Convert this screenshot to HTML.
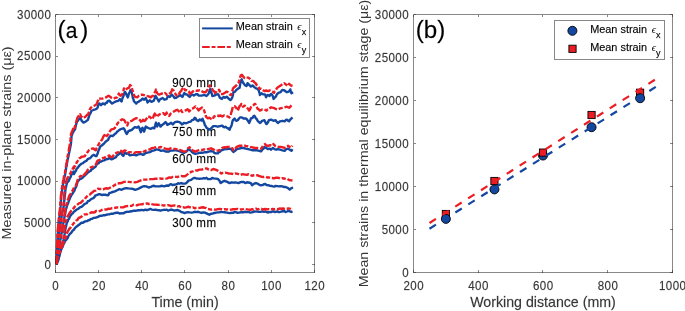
<!DOCTYPE html><html><head><meta charset="utf-8"><style>html,body{margin:0;padding:0;background:#fff;}svg{display:block;will-change:transform;}</style></head><body>
<svg width="685" height="311" viewBox="0 0 685 311" font-family="&quot;Liberation Sans&quot;, sans-serif">
<rect x="0" y="0" width="685" height="311" fill="#fff"/>
<g id="axA">
<text transform="translate(172.20,87.40) scale(0.94,1)" font-size="12.3" fill="#000" text-anchor="start" stroke="#000" stroke-width="0.28" stroke-opacity="0.55" letter-spacing="0.45">900 mm</text>
<text transform="translate(172.20,136.00) scale(0.94,1)" font-size="12.3" fill="#000" text-anchor="start" stroke="#000" stroke-width="0.28" stroke-opacity="0.55" letter-spacing="0.45">750 mm</text>
<text transform="translate(172.20,162.80) scale(0.94,1)" font-size="12.3" fill="#000" text-anchor="start" stroke="#000" stroke-width="0.28" stroke-opacity="0.55" letter-spacing="0.45">600 mm</text>
<text transform="translate(172.20,194.80) scale(0.94,1)" font-size="12.3" fill="#000" text-anchor="start" stroke="#000" stroke-width="0.28" stroke-opacity="0.55" letter-spacing="0.45">450 mm</text>
<text transform="translate(172.20,226.60) scale(0.94,1)" font-size="12.3" fill="#000" text-anchor="start" stroke="#000" stroke-width="0.28" stroke-opacity="0.55" letter-spacing="0.45">300 mm</text>
<g fill="none" stroke-width="2.4" stroke-linejoin="round">
<path d="M56.70,264.20 L57.50,262.00 L58.40,260.00 L58.75,258.78 L59.10,256.72 L59.45,256.32 L59.80,254.40 L60.27,252.40 L60.73,250.94 L61.20,249.60 L61.87,247.85 L62.53,247.05 L63.20,244.80 L63.83,243.70 L64.47,242.64 L65.10,240.90 L66.35,239.67 L67.60,238.00 L68.33,236.27 L69.07,234.98 L69.80,234.00 L70.77,233.36 L71.73,232.06 L72.70,230.50 L73.80,229.90 L74.90,228.06 L76.00,227.00 L77.33,226.05 L78.67,225.00 L80.00,224.00 L81.47,222.71 L82.93,222.81 L84.40,221.70 L85.70,221.27 L87.00,221.17 L88.30,220.20 L89.60,219.98 L90.90,218.87 L92.20,218.90 L93.47,217.87 L94.73,217.76 L96.00,217.60 L98.00,216.90 L99.70,215.90 L101.40,215.80 L103.10,215.28 L104.80,215.30 L106.45,214.73 L108.10,214.40 L109.80,214.19 L111.50,213.60 L113.20,213.68 L114.90,213.00 L116.60,212.74 L118.30,212.80 L119.95,213.61 L121.60,213.20 L123.30,213.40 L125.00,212.40 L126.70,211.80 L128.40,211.90 L130.10,211.47 L131.80,211.30 L133.45,210.72 L135.10,210.80 L136.80,210.53 L138.50,210.20 L140.20,210.28 L141.90,209.90 L143.60,210.33 L145.30,209.60 L146.95,210.20 L148.60,209.60 L150.30,208.98 L152.00,209.60 L153.70,209.92 L155.40,209.60 L157.10,210.00 L158.80,210.20 L160.45,210.69 L162.10,210.20 L163.80,209.81 L165.50,209.90 L166.80,209.67 L168.10,210.61 L169.40,210.20 L171.10,209.54 L172.80,210.00 L174.45,210.63 L176.10,210.20 L177.80,210.00 L179.50,210.80 L181.20,212.00 L182.90,212.40 L184.60,213.05 L186.30,212.40 L187.95,212.18 L189.60,212.40 L191.30,212.58 L193.00,212.40 L194.70,211.79 L196.40,212.10 L198.10,211.76 L199.80,212.40 L201.45,212.94 L203.10,212.40 L205.40,212.80 L207.10,213.60 L209.30,214.70 L211.60,213.60 L213.00,213.48 L214.40,213.00 L216.10,212.58 L217.80,212.40 L219.45,212.42 L221.10,211.90 L222.80,212.12 L224.50,212.20 L227.00,212.60 L229.50,213.10 L232.00,212.70 L233.43,212.83 L234.87,211.79 L236.30,212.30 L237.73,212.80 L239.15,212.62 L240.57,212.31 L242.00,212.10 L243.38,212.42 L244.75,211.75 L246.12,211.95 L247.50,211.90 L248.88,212.00 L250.25,212.60 L251.62,212.32 L253.00,212.00 L254.45,211.49 L255.90,211.64 L257.35,211.45 L258.80,211.90 L260.53,211.86 L262.27,211.39 L264.00,211.90 L265.50,211.47 L267.00,212.23 L268.50,212.46 L270.00,211.90 L271.50,211.97 L273.00,211.22 L274.50,212.08 L276.00,211.80 L277.32,211.39 L278.65,212.16 L279.98,211.95 L281.30,211.60 L282.73,211.23 L284.15,210.95 L285.57,212.04 L287.00,211.50 L288.38,210.92 L289.75,211.39 L291.12,211.93 L292.50,211.40" stroke="#1448a0"/>
<path d="M56.70,264.20 L56.85,263.11 L57.00,261.28 L57.15,260.19 L57.30,259.00 L57.70,258.16 L58.10,256.30 L58.50,255.00 L59.07,254.02 L59.63,251.80 L60.20,251.00 L60.65,249.65 L61.10,248.54 L61.55,247.07 L62.00,246.00 L62.38,244.39 L62.75,243.49 L63.12,241.38 L63.50,240.00 L63.73,238.55 L63.97,236.90 L64.20,235.50 L64.47,234.60 L64.75,233.23 L65.03,230.82 L65.30,229.80 L65.60,228.34 L65.90,226.43 L66.20,225.75 L66.50,224.20 L67.07,222.25 L67.63,221.69 L68.20,219.70 L68.90,218.99 L69.60,217.39 L70.30,215.82 L71.00,215.20 L71.97,213.74 L72.95,213.16 L73.93,211.56 L74.90,211.20 L76.45,209.68 L78.00,209.00 L79.30,207.79 L80.60,207.09 L81.90,206.70 L83.17,205.48 L84.43,204.13 L85.70,203.50 L86.77,203.08 L87.83,201.23 L88.90,200.90 L90.20,199.97 L91.50,198.79 L92.80,198.40 L94.10,197.48 L95.40,195.50 L96.70,195.15 L98.00,194.50 L99.40,194.16 L100.80,194.50 L102.20,195.02 L103.60,194.70 L105.90,194.80 L107.60,195.40 L108.45,194.87 L109.30,193.10 L110.90,192.60 L112.60,192.00 L114.90,191.40 L117.10,190.30 L119.40,189.20 L121.60,189.80 L123.90,188.60 L126.10,188.10 L128.40,188.40 L130.60,188.60 L132.90,188.90 L135.10,189.80 L137.40,189.20 L139.60,188.10 L141.90,186.90 L144.10,186.20 L146.40,186.40 L148.60,187.50 L150.90,186.90 L153.10,185.80 L155.40,186.20 L157.60,186.40 L159.90,186.20 L162.10,185.80 L164.40,186.40 L165.80,185.71 L167.20,185.50 L168.30,185.90 L169.70,184.72 L171.10,184.20 L172.50,185.09 L173.90,184.80 L175.30,184.59 L176.70,184.20 L178.10,183.26 L179.50,183.60 L181.20,183.03 L182.90,183.60 L185.10,183.60 L186.25,183.11 L187.40,181.90 L188.50,180.63 L189.60,180.30 L191.00,179.95 L192.40,178.90 L193.85,177.85 L195.30,178.00 L196.70,178.52 L198.10,178.60 L199.50,178.80 L200.90,178.60 L202.30,178.64 L203.70,178.20 L205.10,178.52 L206.50,177.80 L207.90,178.98 L209.30,179.10 L210.70,179.13 L212.10,178.00 L213.80,178.42 L215.50,178.60 L217.80,178.90 L219.50,180.80 L220.60,183.10 L222.30,181.90 L224.50,180.80 L225.90,181.32 L227.30,181.90 L229.50,183.10 L231.80,182.30 L233.45,182.65 L235.10,182.50 L236.80,182.60 L238.50,183.10 L240.20,182.28 L241.90,181.90 L243.60,181.93 L245.30,183.10 L246.95,182.28 L248.60,182.50 L250.90,183.10 L252.00,185.30 L253.15,184.40 L254.30,183.60 L255.95,183.03 L257.60,183.60 L259.30,184.84 L261.00,185.30 L262.40,185.17 L263.80,184.20 L265.20,183.95 L266.60,185.00 L268.30,185.20 L270.00,185.90 L271.40,185.95 L272.80,186.40 L274.20,186.59 L275.60,185.90 L277.30,186.07 L279.00,186.40 L280.70,186.15 L282.40,186.40 L284.10,187.04 L285.80,187.00 L288.00,188.10 L289.70,189.50 L291.40,188.10 L293.10,187.60" stroke="#1448a0"/>
<path d="M56.70,264.20 L56.82,263.18 L56.93,261.85 L57.05,259.63 L57.17,259.24 L57.28,257.80 L57.40,256.00 L57.64,255.03 L57.88,253.47 L58.12,252.41 L58.36,250.81 L58.60,249.00 L58.84,248.24 L59.09,246.32 L59.33,244.59 L59.57,244.50 L59.81,242.89 L60.06,241.90 L60.30,240.00 L60.57,238.99 L60.84,237.77 L61.11,236.02 L61.39,233.74 L61.66,233.17 L61.93,231.33 L62.20,230.00 L62.46,229.00 L62.71,226.60 L62.97,225.81 L63.23,223.94 L63.49,222.31 L63.74,221.59 L64.00,220.00 L64.23,219.21 L64.46,216.93 L64.69,216.08 L64.91,214.91 L65.14,213.72 L65.37,212.85 L65.60,211.00 L66.02,208.98 L66.45,207.96 L66.88,206.01 L67.30,205.00 L67.87,203.78 L68.43,202.18 L69.00,200.30 L69.62,199.17 L70.25,197.22 L70.88,196.27 L71.50,195.00 L72.37,193.85 L73.23,192.31 L74.10,191.30 L74.70,189.81 L75.30,188.08 L75.90,187.28 L76.50,185.70 L77.00,183.90 L77.50,182.00 L78.50,180.60 L79.80,179.20 L81.40,178.67 L83.00,177.30 L84.07,176.16 L85.13,175.37 L86.20,174.10 L87.27,173.04 L88.33,172.11 L89.40,171.50 L90.47,171.02 L91.53,169.46 L92.60,168.90 L93.90,167.80 L95.20,167.00 L96.15,165.55 L97.10,163.80 L98.40,163.37 L99.70,161.90 L101.30,161.58 L102.90,160.60 L104.50,160.34 L106.10,159.30 L107.70,159.17 L109.30,158.00 L110.40,158.63 L111.50,159.40 L113.80,158.30 L116.00,157.10 L116.85,155.63 L117.70,154.90 L119.40,153.80 L120.50,152.10 L121.35,153.47 L122.20,154.90 L123.30,156.00 L124.15,154.32 L125.00,152.60 L126.70,153.80 L128.40,153.20 L129.25,154.89 L130.10,155.40 L131.80,154.90 L134.00,154.90 L136.30,155.40 L138.50,154.30 L140.80,153.80 L143.00,154.90 L144.15,154.44 L145.30,153.20 L147.50,152.60 L149.80,152.10 L152.00,150.90 L154.30,150.40 L156.50,149.30 L158.80,149.80 L161.00,150.90 L163.30,150.40 L165.50,151.50 L166.90,151.56 L168.30,151.70 L170.50,150.60 L172.80,150.60 L175.00,150.00 L177.30,150.60 L179.50,151.10 L181.80,152.30 L184.00,152.80 L186.30,151.70 L187.40,150.57 L188.50,148.90 L189.65,149.98 L190.80,150.60 L191.90,151.94 L193.00,152.80 L195.30,153.90 L197.50,153.40 L199.80,152.80 L202.00,152.80 L204.30,152.30 L206.50,152.30 L208.80,151.70 L211.00,151.10 L213.30,151.70 L214.40,152.87 L215.50,153.40 L217.80,153.40 L218.90,152.10 L220.00,151.70 L221.15,150.23 L222.30,150.00 L224.50,149.20 L225.90,149.04 L227.30,149.10 L229.50,148.60 L231.80,149.70 L232.60,151.10 L233.40,151.90 L235.10,150.80 L236.80,149.10 L239.10,148.60 L241.30,148.00 L243.60,148.00 L245.80,148.60 L248.10,149.10 L250.30,149.70 L252.60,150.30 L254.80,150.30 L257.10,150.30 L259.30,150.80 L261.00,151.40 L261.85,150.28 L262.70,149.10 L263.55,148.60 L264.40,146.90 L266.10,148.00 L267.80,149.10 L269.50,148.60 L271.10,149.70 L272.80,148.00 L274.50,149.10 L276.20,149.70 L277.90,149.10 L280.10,149.70 L282.40,150.30 L284.60,150.80 L286.30,149.10 L288.00,148.60 L289.70,149.70 L291.40,150.80 L292.50,149.10" stroke="#1448a0"/>
<path d="M56.70,264.20 L56.74,263.44 L56.79,262.07 L56.83,259.56 L56.88,258.24 L56.92,257.86 L56.97,256.37 L57.01,254.93 L57.06,253.11 L57.10,252.00 L57.21,250.71 L57.33,249.28 L57.44,247.82 L57.56,245.84 L57.67,244.77 L57.79,243.29 L57.90,242.00 L58.10,240.86 L58.30,239.79 L58.50,238.30 L58.70,236.34 L58.90,234.79 L59.10,233.13 L59.30,232.00 L59.51,229.97 L59.73,228.53 L59.94,227.67 L60.16,226.05 L60.37,224.70 L60.59,223.94 L60.80,222.00 L61.00,220.75 L61.20,219.51 L61.40,217.80 L61.60,216.24 L61.80,215.34 L62.00,213.81 L62.20,213.00 L62.55,211.51 L62.90,210.65 L63.25,208.73 L63.60,207.00 L63.74,205.19 L63.88,204.71 L64.02,203.19 L64.16,201.70 L64.30,200.00 L64.44,199.23 L64.59,197.74 L64.73,196.48 L64.88,194.61 L65.02,194.13 L65.17,192.80 L65.31,190.46 L65.46,189.93 L65.60,188.30 L65.92,187.30 L66.25,185.70 L66.58,184.51 L66.90,183.20 L67.73,181.89 L68.57,181.15 L69.40,179.30 L69.97,178.03 L70.53,177.20 L71.10,175.50 L71.90,173.98 L72.70,173.33 L73.50,171.50 L73.75,173.32 L74.00,174.10 L74.65,172.75 L75.30,171.59 L75.95,170.75 L76.60,168.90 L77.67,167.92 L78.73,166.35 L79.80,165.10 L81.40,163.74 L83.00,163.10 L84.30,161.92 L85.60,161.20 L86.67,160.59 L87.73,159.03 L88.80,158.60 L90.10,158.18 L91.40,156.70 L92.65,155.45 L93.90,154.80 L95.20,155.98 L96.50,156.10 L96.97,154.55 L97.45,154.09 L97.93,152.47 L98.40,150.90 L99.03,149.41 L99.67,147.92 L100.30,146.40 L101.60,145.65 L102.90,144.50 L104.20,143.31 L105.50,141.90 L106.80,140.71 L108.10,140.00 L108.70,138.40 L109.80,136.62 L110.90,135.60 L112.60,136.10 L113.75,135.02 L114.90,133.90 L116.00,133.31 L117.10,131.60 L118.25,130.91 L119.40,129.90 L121.60,128.80 L123.30,128.30 L124.15,128.85 L125.00,130.50 L125.85,132.62 L126.70,133.90 L127.55,132.79 L128.40,131.10 L130.10,130.50 L131.80,129.90 L133.40,128.30 L135.10,127.10 L136.80,127.70 L138.50,126.60 L139.60,128.30 L140.00,130.13 L140.40,130.50 L140.80,132.20 L141.37,131.02 L141.93,128.63 L142.50,127.70 L143.03,129.20 L143.57,130.01 L144.10,131.60 L144.53,129.99 L144.95,129.59 L145.38,127.34 L145.80,126.60 L147.50,127.70 L149.20,128.30 L150.90,128.80 L152.60,127.70 L154.30,128.30 L154.73,126.90 L155.15,125.91 L155.57,123.69 L156.00,122.60 L156.37,123.56 L156.73,125.76 L157.10,126.60 L157.95,124.80 L158.80,123.20 L159.65,125.18 L160.50,126.60 L162.10,124.90 L163.80,123.80 L165.50,122.10 L166.35,122.89 L167.20,124.90 L169.40,123.90 L171.10,122.80 L172.80,124.40 L173.90,123.12 L175.00,122.20 L177.30,121.60 L179.50,122.20 L180.65,122.87 L181.80,124.40 L182.90,123.82 L184.00,122.80 L186.30,123.30 L188.50,122.20 L190.80,121.60 L191.90,120.21 L193.00,119.90 L193.85,119.39 L194.70,117.70 L195.55,118.18 L196.40,119.90 L198.10,121.10 L199.80,119.40 L201.40,120.50 L202.60,118.80 L203.15,120.50 L203.70,121.60 L204.25,122.68 L204.80,125.00 L205.65,126.08 L206.50,127.80 L208.20,128.90 L209.90,129.50 L211.60,127.80 L213.30,126.10 L215.50,126.10 L217.80,126.70 L220.00,126.10 L222.30,125.60 L223.40,126.86 L224.50,127.30 L225.50,126.80 L227.30,128.10 L228.40,128.50 L229.50,129.80 L230.35,127.69 L231.20,126.40 L231.62,125.10 L232.05,123.15 L232.47,121.16 L232.90,120.20 L234.60,118.50 L235.45,120.29 L236.30,120.80 L237.90,120.20 L239.05,118.35 L240.20,117.40 L241.90,117.40 L243.60,118.50 L245.30,118.50 L246.40,118.75 L247.50,120.20 L248.35,121.40 L249.20,123.00 L249.77,121.65 L250.33,120.32 L250.90,118.50 L252.60,117.90 L253.45,116.30 L254.30,115.70 L255.10,116.89 L255.90,118.50 L256.75,119.04 L257.60,120.80 L258.75,121.83 L259.90,123.00 L261.00,122.25 L262.10,120.80 L264.40,120.20 L265.13,121.81 L265.87,123.32 L266.60,124.10 L267.37,123.13 L268.13,121.97 L268.90,120.20 L271.10,119.60 L273.40,120.80 L275.60,120.20 L276.75,121.87 L277.90,123.00 L279.00,122.11 L280.10,121.30 L282.40,120.80 L284.60,121.30 L285.75,120.09 L286.90,119.60 L288.00,120.66 L289.10,121.30 L289.95,119.96 L290.80,119.10 L292.50,117.40" stroke="#1448a0"/>
<path d="M56.70,264.20 L56.72,262.41 L56.74,261.90 L56.77,260.53 L56.79,258.19 L56.81,257.15 L56.83,256.29 L56.86,255.20 L56.88,253.36 L56.90,252.00 L56.96,250.94 L57.01,249.96 L57.07,247.95 L57.12,246.43 L57.18,245.33 L57.23,243.79 L57.29,242.98 L57.34,241.09 L57.40,240.00 L57.49,238.88 L57.58,237.73 L57.67,236.06 L57.76,234.84 L57.84,233.31 L57.93,232.13 L58.02,230.23 L58.11,229.10 L58.20,228.00 L58.34,226.55 L58.48,224.71 L58.61,224.47 L58.75,221.99 L58.89,220.72 L59.02,219.90 L59.16,218.63 L59.30,217.00 L59.47,216.19 L59.64,214.52 L59.81,212.66 L59.99,211.56 L60.16,209.47 L60.33,207.86 L60.50,207.00 L60.60,206.16 L60.70,204.00 L60.80,202.57 L60.90,202.10 L61.00,199.90 L61.10,199.14 L61.20,197.21 L61.30,196.00 L61.50,194.16 L61.70,193.07 L61.90,192.33 L62.10,189.90 L62.30,188.80 L62.50,188.39 L62.70,185.90 L62.90,185.00 L63.20,183.10 L63.50,182.41 L63.80,181.21 L64.10,179.75 L64.40,177.45 L64.70,176.43 L65.00,175.00 L65.22,173.56 L65.44,172.71 L65.67,170.68 L65.89,169.78 L66.11,167.82 L66.33,166.59 L66.56,166.18 L66.78,164.77 L67.00,163.00 L67.26,161.74 L67.51,160.40 L67.77,159.03 L68.03,158.39 L68.29,156.86 L68.54,155.89 L68.80,154.00 L69.09,152.90 L69.37,151.76 L69.66,150.42 L69.94,148.88 L70.23,147.41 L70.51,145.88 L70.80,145.00 L70.91,143.52 L71.03,142.97 L71.14,140.97 L71.26,140.08 L71.37,138.82 L71.49,136.56 L71.60,135.90 L72.22,134.27 L72.85,132.45 L73.47,131.69 L74.10,130.10 L75.10,129.40 L75.44,127.41 L75.78,126.05 L76.12,124.52 L76.46,123.28 L76.80,122.00 L77.65,121.04 L78.50,119.80 L80.10,118.10 L80.95,119.18 L81.80,120.90 L83.50,122.60 L85.80,121.50 L86.90,120.66 L88.00,119.80 L88.42,118.18 L88.85,116.78 L89.28,115.36 L89.70,114.20 L90.55,113.13 L91.40,110.80 L92.80,110.24 L94.20,109.60 L95.60,109.30 L97.00,108.50 L97.58,107.52 L98.15,105.46 L98.72,104.06 L99.30,103.40 L101.00,105.20 L102.70,103.40 L104.90,104.40 L105.83,102.94 L106.77,102.78 L107.70,101.20 L109.40,100.60 L110.40,101.90 L112.10,103.60 L113.80,102.50 L116.00,101.40 L118.30,100.80 L119.90,99.10 L120.75,100.83 L121.60,101.40 L122.02,99.79 L122.45,98.28 L122.88,97.27 L123.30,96.30 L123.87,94.68 L124.43,93.07 L125.00,91.80 L125.85,93.16 L126.70,95.20 L127.80,97.40 L128.17,96.49 L128.53,94.80 L128.90,93.50 L129.75,91.96 L130.60,90.10 L131.80,92.40 L132.08,94.24 L132.35,94.82 L132.62,96.52 L132.90,98.00 L133.45,99.18 L134.00,101.40 L135.15,102.34 L136.30,103.60 L137.40,102.15 L138.50,101.90 L139.65,100.83 L140.80,100.30 L142.50,98.60 L144.10,99.70 L145.80,98.00 L146.37,99.68 L146.93,100.42 L147.50,102.50 L148.65,101.31 L149.80,100.30 L151.50,101.90 L153.70,100.80 L154.12,99.61 L154.55,98.62 L154.97,97.16 L155.40,95.80 L156.25,96.94 L157.10,98.60 L157.95,99.73 L158.80,101.40 L159.65,99.73 L160.50,99.10 L162.70,98.00 L164.40,99.70 L166.60,99.10 L167.25,97.63 L167.90,96.00 L169.80,97.00 L170.80,95.78 L171.80,94.60 L173.20,96.00 L174.60,98.00 L175.85,97.92 L177.10,97.00 L179.00,96.00 L180.40,95.10 L181.40,96.02 L182.40,97.00 L183.03,95.83 L183.67,94.27 L184.30,93.10 L185.75,94.25 L187.20,94.60 L188.40,95.87 L189.60,97.00 L190.55,95.70 L191.50,94.60 L192.70,94.60 L193.90,95.60 L195.90,94.10 L197.35,94.25 L198.80,95.60 L200.20,95.63 L201.60,95.60 L203.60,95.10 L205.05,95.17 L206.50,96.00 L207.70,94.74 L208.90,93.10 L209.37,91.25 L209.83,90.25 L210.30,88.80 L210.70,90.61 L211.10,91.84 L211.50,93.16 L211.90,93.95 L212.30,96.00 L214.20,95.60 L216.10,94.60 L218.00,94.10 L218.67,95.21 L219.33,96.60 L220.00,98.00 L221.90,98.90 L222.85,97.50 L223.80,97.00 L225.00,97.80 L226.70,96.70 L228.40,98.40 L229.50,99.46 L230.60,100.10 L231.45,99.05 L232.30,97.30 L232.58,96.31 L232.85,95.16 L233.12,93.94 L233.40,92.20 L235.10,91.60 L236.30,89.90 L237.90,88.80 L239.60,87.70 L239.84,86.36 L240.08,84.90 L240.32,83.46 L240.56,82.26 L240.80,80.90 L241.70,79.30 L242.35,81.37 L243.00,82.60 L243.85,83.58 L244.70,84.90 L246.40,86.00 L246.95,85.21 L247.50,83.20 L249.20,84.90 L250.90,86.60 L252.60,85.40 L254.30,87.10 L255.90,88.30 L257.60,88.80 L258.80,90.50 L259.17,92.22 L259.53,92.90 L259.90,95.00 L261.60,93.30 L263.30,94.40 L265.00,94.40 L265.55,95.81 L266.10,97.30 L266.95,95.54 L267.80,95.00 L269.50,96.10 L270.30,94.66 L271.10,93.90 L271.95,94.72 L272.80,96.10 L273.20,97.58 L273.60,98.90 L275.10,97.30 L275.95,96.47 L276.80,94.40 L278.50,92.80 L280.70,92.20 L281.55,90.76 L282.40,89.90 L284.60,90.50 L285.75,91.56 L286.90,92.20 L288.60,91.60 L289.45,91.09 L290.30,89.40 L290.67,90.89 L291.03,91.68 L291.40,93.30 L293.10,92.20" stroke="#1448a0"/>
<path d="M56.70,264.20 L56.83,263.20 L56.97,260.85 L57.10,260.00 L57.55,258.34 L58.00,256.50 L58.75,254.41 L59.50,253.00 L60.00,252.23 L60.50,249.96 L61.00,249.12 L61.50,248.00 L62.00,246.69 L62.50,245.58 L63.00,244.02 L63.50,243.00 L64.10,241.90 L64.70,239.75 L65.30,238.80 L65.72,236.78 L66.15,236.01 L66.58,233.96 L67.00,233.20 L67.77,231.24 L68.53,230.37 L69.30,228.70 L70.15,228.35 L71.00,226.26 L71.85,225.53 L72.70,224.70 L73.80,223.17 L74.90,222.16 L76.00,220.80 L77.33,219.98 L78.67,217.96 L80.00,217.50 L81.90,216.40 L83.17,215.25 L84.43,214.47 L85.70,214.40 L87.00,214.31 L88.30,213.39 L89.60,213.20 L91.50,212.23 L93.40,212.50 L94.70,212.35 L96.00,210.92 L97.30,211.00 L98.67,211.23 L100.03,210.89 L101.40,210.20 L103.10,209.52 L104.80,209.40 L106.45,209.64 L108.10,208.70 L109.80,208.93 L111.50,208.30 L113.20,208.19 L114.90,207.90 L116.60,207.48 L118.30,207.40 L119.95,207.15 L121.60,207.40 L123.30,207.39 L125.00,206.50 L126.70,206.09 L128.40,206.00 L130.10,205.93 L131.80,205.70 L133.45,204.79 L135.10,205.10 L136.80,205.34 L138.50,204.60 L140.20,204.43 L141.90,204.20 L143.60,203.92 L145.30,204.00 L146.95,203.44 L148.60,204.00 L150.30,203.60 L152.00,204.20 L153.70,204.58 L155.40,204.60 L157.10,204.75 L158.80,204.90 L160.45,204.66 L162.10,205.10 L163.80,205.47 L165.50,205.40 L166.80,205.53 L168.10,205.21 L169.40,205.40 L171.10,206.19 L172.80,205.70 L174.45,205.34 L176.10,205.70 L177.80,206.27 L179.50,206.30 L181.20,207.32 L182.90,207.20 L184.60,207.68 L186.30,207.40 L187.95,206.74 L189.60,207.20 L191.30,207.86 L193.00,207.40 L194.70,208.27 L196.40,207.90 L198.10,207.93 L199.80,207.90 L201.45,207.53 L203.10,207.20 L204.55,207.88 L206.00,207.90 L207.40,208.83 L208.80,209.10 L211.00,209.60 L212.70,209.41 L214.40,209.60 L216.10,209.66 L217.80,209.10 L219.45,208.84 L221.10,209.10 L222.80,209.38 L224.50,209.10 L226.20,209.43 L227.90,209.40 L229.60,209.83 L231.30,209.60 L232.95,209.28 L234.60,209.10 L235.95,209.13 L237.30,208.86 L238.65,209.46 L240.00,209.40 L241.50,209.46 L243.00,209.15 L244.50,208.76 L246.00,209.08 L247.50,209.40 L249.00,209.63 L250.50,209.80 L252.00,209.20 L253.36,209.73 L254.72,209.27 L256.08,208.72 L257.44,209.25 L258.80,209.10 L260.10,208.60 L261.40,208.71 L262.70,209.56 L264.00,209.30 L265.50,209.03 L267.00,209.37 L268.50,209.08 L270.00,209.40 L271.50,209.31 L273.00,208.89 L274.50,209.29 L276.00,209.00 L277.32,209.29 L278.65,209.03 L279.98,208.45 L281.30,208.90 L282.73,208.52 L284.15,208.78 L285.57,208.91 L287.00,208.80 L288.38,208.54 L289.75,208.60 L291.12,209.29 L292.50,208.60" stroke="#ec1c24" stroke-dasharray="8.4 1.8 4.2 1.8"/>
<path d="M56.70,264.20 L56.83,262.48 L56.95,260.58 L57.08,259.11 L57.20,258.00 L57.53,256.73 L57.87,254.25 L58.20,253.00 L58.65,251.30 L59.10,250.99 L59.55,248.81 L60.00,248.00 L60.67,246.52 L61.33,245.48 L62.00,244.00 L62.50,242.02 L63.00,241.38 L63.50,239.50 L63.62,238.45 L63.74,236.62 L63.86,235.73 L63.98,234.21 L64.10,232.20 L64.24,230.47 L64.38,229.81 L64.52,227.23 L64.66,226.64 L64.80,224.70 L65.17,223.60 L65.53,221.98 L65.90,220.80 L66.45,219.39 L67.00,217.40 L67.77,216.08 L68.53,214.79 L69.30,213.50 L70.15,212.31 L71.00,211.09 L71.85,209.92 L72.70,209.50 L74.10,207.50 L75.40,206.18 L76.70,205.18 L78.00,204.10 L79.30,203.12 L80.60,202.93 L81.90,201.60 L82.85,200.61 L83.80,200.22 L84.75,199.32 L85.70,197.70 L86.77,196.54 L87.83,195.74 L88.90,195.10 L90.00,194.52 L91.10,193.36 L92.20,192.60 L93.80,191.01 L95.40,190.60 L96.70,189.25 L98.00,188.60 L99.70,189.05 L101.40,188.90 L103.10,189.33 L104.80,188.60 L106.45,188.24 L108.10,188.60 L110.40,187.50 L112.60,186.40 L113.75,185.65 L114.90,185.00 L116.00,184.13 L117.10,183.60 L119.40,183.20 L121.60,183.00 L123.90,181.90 L126.10,181.70 L128.40,181.90 L130.60,182.10 L132.90,181.90 L135.10,182.40 L137.40,181.90 L139.60,180.80 L141.90,179.90 L144.10,179.60 L146.40,179.60 L148.60,179.40 L150.90,179.10 L153.10,179.10 L155.40,178.70 L157.60,178.70 L159.90,178.50 L162.10,178.70 L164.40,178.50 L165.80,178.64 L167.20,178.30 L169.40,177.40 L171.10,177.77 L172.80,176.90 L174.45,176.71 L176.10,176.90 L177.80,176.96 L179.50,176.30 L181.20,175.85 L182.90,176.30 L184.30,176.28 L185.70,175.80 L186.80,174.89 L187.90,174.10 L189.05,172.71 L190.20,172.40 L191.60,171.63 L193.00,171.30 L194.40,170.44 L195.80,170.40 L197.20,170.64 L198.60,169.90 L200.00,169.58 L201.40,169.60 L202.85,169.25 L204.30,168.80 L206.50,168.40 L208.80,169.60 L211.00,170.10 L213.30,169.00 L215.50,169.60 L217.80,170.70 L219.50,171.80 L221.10,173.50 L222.80,172.90 L225.10,172.60 L226.75,172.82 L228.40,173.50 L230.10,173.63 L231.80,173.70 L233.45,174.09 L235.10,173.50 L236.80,173.61 L238.50,174.10 L240.20,174.85 L241.90,174.40 L243.60,174.31 L245.30,174.60 L246.95,174.85 L248.60,174.10 L250.30,174.90 L252.00,175.80 L253.70,175.27 L255.40,175.20 L257.10,175.19 L258.80,175.80 L260.45,176.43 L262.10,176.90 L263.80,176.95 L265.50,176.70 L267.20,177.43 L268.90,177.40 L270.60,177.99 L272.30,178.00 L273.95,178.36 L275.60,177.80 L277.30,177.65 L279.00,178.00 L280.70,178.68 L282.40,178.20 L284.10,178.46 L285.80,179.10 L287.45,178.97 L289.10,180.00 L290.80,180.30 L292.50,180.50" stroke="#ec1c24" stroke-dasharray="8.4 1.8 4.2 1.8"/>
<path d="M56.70,264.20 L56.79,262.64 L56.87,261.62 L56.96,260.21 L57.04,258.76 L57.13,257.41 L57.21,255.96 L57.30,255.00 L57.52,252.96 L57.74,252.29 L57.96,251.37 L58.18,249.78 L58.40,248.00 L58.63,246.24 L58.87,245.09 L59.10,244.06 L59.33,242.27 L59.57,241.93 L59.80,240.00 L60.06,239.07 L60.31,237.45 L60.57,236.45 L60.83,235.50 L61.09,233.49 L61.34,231.72 L61.60,231.00 L61.83,230.22 L62.06,229.07 L62.29,226.87 L62.51,225.70 L62.74,224.50 L62.97,223.59 L63.20,222.00 L63.43,221.29 L63.66,219.82 L63.89,218.21 L64.11,217.36 L64.34,215.21 L64.57,214.00 L64.80,213.00 L65.05,211.37 L65.30,209.88 L65.55,208.75 L65.80,208.15 L66.05,206.31 L66.30,205.00 L66.71,203.73 L67.12,202.91 L67.54,201.50 L67.95,199.44 L68.36,199.09 L68.77,196.96 L69.19,195.81 L69.60,195.10 L70.42,194.27 L71.25,192.65 L72.08,191.31 L72.90,190.00 L73.65,188.29 L74.40,187.70 L75.15,187.10 L75.90,185.70 L76.28,184.04 L76.66,183.12 L77.04,182.16 L77.42,180.54 L77.80,179.30 L77.90,178.60 L79.15,177.52 L80.40,176.00 L81.70,176.15 L83.00,176.60 L83.87,174.70 L84.73,174.49 L85.60,172.80 L86.67,171.88 L87.73,169.86 L88.80,168.90 L90.40,167.53 L92.00,167.00 L93.60,166.28 L95.20,165.10 L95.83,164.38 L96.47,162.91 L97.10,161.20 L98.40,160.33 L99.70,159.90 L101.30,159.21 L102.90,158.00 L104.50,157.80 L106.10,156.70 L107.70,156.23 L109.30,155.40 L110.40,156.85 L111.50,157.10 L112.65,156.63 L113.80,154.90 L114.90,153.70 L116.00,153.20 L118.30,152.10 L119.90,150.40 L121.10,150.90 L122.80,152.60 L123.60,151.06 L124.40,150.40 L126.10,150.90 L127.80,152.60 L129.50,152.10 L131.80,152.10 L134.00,153.20 L136.30,152.10 L138.50,152.10 L140.80,152.10 L143.00,152.60 L144.15,151.43 L145.30,150.90 L147.50,149.80 L149.80,149.30 L152.00,148.10 L154.30,147.60 L156.50,147.00 L158.80,147.60 L161.00,147.00 L163.30,148.10 L165.50,148.70 L166.90,149.00 L168.30,149.40 L170.50,148.30 L172.80,148.90 L175.00,148.90 L177.30,149.40 L179.50,150.00 L181.80,150.60 L184.00,151.70 L186.30,151.10 L187.10,150.11 L187.90,148.30 L189.60,147.20 L190.45,148.81 L191.30,149.40 L193.00,150.60 L195.30,151.70 L197.50,150.60 L199.80,150.00 L202.00,150.00 L204.30,149.40 L206.50,149.40 L208.80,148.90 L211.00,148.30 L213.30,149.40 L215.50,150.60 L217.80,150.60 L220.00,150.00 L221.15,149.20 L222.30,147.80 L224.50,147.20 L225.90,147.62 L227.30,146.90 L229.50,146.90 L231.80,148.00 L232.60,148.73 L233.40,150.30 L235.10,149.10 L235.95,147.42 L236.80,146.90 L239.10,145.80 L241.30,145.80 L243.60,145.20 L245.80,145.80 L248.10,146.30 L250.30,146.90 L252.60,147.40 L254.80,148.00 L257.10,148.00 L259.30,148.60 L261.00,148.60 L261.85,147.74 L262.70,146.30 L263.85,144.99 L265.00,144.10 L266.60,145.80 L268.30,145.80 L270.00,145.20 L271.70,145.80 L273.40,144.10 L275.10,145.80 L276.80,146.30 L278.50,146.90 L280.70,146.90 L283.00,147.40 L284.60,148.00 L286.30,146.30 L288.00,145.80 L289.70,146.90 L291.40,147.40 L292.50,145.80" stroke="#ec1c24" stroke-dasharray="8.4 1.8 4.2 1.8"/>
<path d="M56.70,264.20 L56.73,262.35 L56.77,262.11 L56.80,260.45 L56.83,258.44 L56.87,257.46 L56.90,256.34 L56.93,254.66 L56.97,253.48 L57.00,252.00 L57.10,250.89 L57.20,249.06 L57.30,248.29 L57.40,246.02 L57.50,244.69 L57.60,242.96 L57.70,242.00 L57.89,240.32 L58.07,239.45 L58.26,237.34 L58.44,235.83 L58.63,234.69 L58.81,233.82 L59.00,232.00 L59.21,230.30 L59.43,229.23 L59.64,228.03 L59.86,225.91 L60.07,224.27 L60.29,223.13 L60.50,222.00 L60.70,220.81 L60.90,219.10 L61.10,217.70 L61.30,217.26 L61.50,216.10 L61.70,214.67 L61.90,213.00 L62.23,211.79 L62.55,209.60 L62.88,207.89 L63.20,207.00 L63.34,205.66 L63.48,203.98 L63.62,202.78 L63.76,200.89 L63.90,200.00 L63.99,199.05 L64.08,197.47 L64.17,195.94 L64.26,194.86 L64.35,193.58 L64.45,191.66 L64.54,190.86 L64.63,189.58 L64.72,188.28 L64.81,186.59 L64.90,185.70 L65.30,184.00 L65.70,182.69 L66.10,181.97 L66.50,180.42 L66.90,179.30 L67.66,177.60 L68.42,176.65 L69.18,174.97 L69.94,174.21 L70.70,172.90 L71.34,171.28 L71.98,170.85 L72.62,168.99 L73.26,167.75 L73.90,166.60 L74.00,168.30 L74.65,166.29 L75.30,165.98 L75.95,164.59 L76.60,162.50 L77.43,161.39 L78.27,160.10 L79.10,158.60 L80.40,157.71 L81.70,156.70 L83.30,156.60 L84.90,156.10 L85.77,154.15 L86.63,153.55 L87.50,152.20 L88.80,150.36 L90.10,149.60 L91.70,148.74 L93.30,148.40 L94.60,149.67 L95.90,150.30 L96.53,148.18 L97.17,147.41 L97.80,145.80 L98.75,144.21 L99.70,142.60 L100.65,141.93 L101.60,140.00 L102.20,139.36 L102.80,137.86 L103.40,136.50 L104.50,135.00 L105.20,136.40 L105.90,137.20 L106.75,135.78 L107.60,135.00 L108.45,134.12 L109.30,132.20 L110.40,130.51 L111.50,129.40 L113.80,128.80 L114.90,127.91 L116.00,126.00 L116.77,124.85 L117.53,123.44 L118.30,122.60 L119.40,121.90 L120.50,120.40 L122.20,119.30 L123.90,119.80 L124.75,120.88 L125.60,122.60 L126.45,123.80 L127.30,125.40 L127.85,123.81 L128.40,122.10 L130.10,121.50 L131.80,120.90 L132.90,120.05 L134.00,119.30 L136.30,118.10 L138.50,118.70 L140.20,120.40 L141.05,121.89 L141.90,123.20 L142.45,121.31 L143.00,119.80 L144.70,120.90 L145.55,120.04 L146.40,118.70 L147.25,118.04 L148.10,116.40 L149.80,117.00 L150.65,117.64 L151.50,119.30 L153.10,117.60 L153.67,115.93 L154.23,114.91 L154.80,113.60 L155.65,114.96 L156.50,117.00 L158.20,115.30 L159.90,114.20 L161.60,113.60 L163.30,113.10 L165.00,114.80 L165.80,113.96 L166.60,112.50 L167.15,114.27 L167.70,114.90 L168.80,116.00 L169.65,115.28 L170.50,113.80 L172.20,112.60 L173.90,111.50 L175.60,110.40 L177.30,109.80 L178.90,111.50 L179.75,109.86 L180.60,109.30 L181.45,110.80 L182.30,112.10 L184.00,110.90 L185.70,110.40 L187.40,109.30 L188.25,109.81 L189.10,111.50 L189.95,110.69 L190.80,109.30 L192.40,108.70 L194.10,107.60 L195.50,106.40 L196.90,108.10 L197.75,109.04 L198.60,110.40 L200.30,108.70 L202.00,107.60 L203.70,109.30 L204.25,110.93 L204.80,112.60 L205.20,113.87 L205.60,114.77 L206.00,116.60 L207.60,118.30 L209.30,117.70 L211.00,118.80 L212.70,119.40 L213.25,117.94 L213.80,116.60 L215.50,116.00 L217.20,115.40 L218.90,116.00 L220.60,115.40 L222.30,116.60 L224.00,115.40 L225.00,115.70 L227.30,116.30 L229.50,117.40 L230.60,115.70 L231.00,113.80 L231.40,112.10 L231.80,111.20 L232.17,109.61 L232.53,108.07 L232.90,106.70 L234.60,106.10 L236.30,107.80 L236.85,109.18 L237.40,110.60 L238.25,109.44 L239.10,107.30 L239.83,105.60 L240.57,105.53 L241.30,103.90 L242.15,104.79 L243.00,106.70 L244.70,105.60 L245.80,106.43 L246.90,107.30 L247.67,108.37 L248.43,109.34 L249.20,110.60 L250.05,109.14 L250.90,107.30 L252.00,106.52 L253.10,105.60 L254.80,103.90 L255.65,104.41 L256.50,106.10 L257.05,107.41 L257.60,108.90 L258.75,109.35 L259.90,110.60 L262.10,109.50 L264.40,109.50 L266.60,110.60 L267.75,109.16 L268.90,108.90 L270.00,108.01 L271.10,107.30 L273.40,107.80 L275.60,108.90 L277.90,109.50 L280.10,108.40 L282.40,107.80 L284.60,107.30 L286.90,106.70 L289.10,107.80 L290.80,106.10 L292.50,104.40" stroke="#ec1c24" stroke-dasharray="8.4 1.8 4.2 1.8"/>
<path d="M56.70,264.20 L56.71,263.14 L56.72,261.02 L56.73,260.17 L56.74,258.47 L56.76,257.87 L56.77,256.66 L56.78,254.88 L56.79,253.27 L56.80,252.00 L56.84,250.93 L56.89,248.87 L56.93,248.61 L56.98,246.27 L57.02,245.66 L57.07,244.08 L57.11,242.25 L57.16,241.87 L57.20,240.00 L57.28,238.57 L57.36,237.30 L57.43,235.75 L57.51,234.50 L57.59,232.93 L57.67,231.84 L57.74,231.27 L57.82,228.94 L57.90,228.00 L58.04,227.11 L58.17,225.23 L58.31,224.23 L58.45,222.28 L58.59,220.72 L58.73,219.81 L58.86,217.95 L59.00,217.00 L59.16,215.18 L59.31,213.54 L59.47,212.42 L59.63,211.65 L59.79,210.37 L59.94,208.58 L60.10,207.00 L60.20,205.11 L60.30,203.85 L60.40,203.10 L60.50,201.33 L60.60,200.64 L60.70,198.38 L60.80,197.74 L60.90,196.00 L61.07,194.46 L61.25,193.74 L61.42,192.33 L61.60,190.99 L61.77,188.64 L61.95,188.04 L62.12,185.90 L62.30,185.00 L62.60,183.98 L62.90,181.92 L63.20,180.75 L63.50,179.51 L63.80,177.45 L64.10,175.96 L64.40,175.00 L64.67,173.73 L64.93,172.72 L65.20,171.05 L65.47,169.26 L65.73,168.34 L66.00,166.30 L66.21,165.17 L66.42,163.61 L66.63,162.94 L66.84,161.65 L67.06,159.77 L67.27,158.64 L67.48,156.74 L67.69,156.59 L67.90,154.70 L68.15,152.92 L68.40,151.93 L68.65,151.49 L68.90,149.76 L69.15,147.75 L69.40,147.00 L69.70,145.00 L70.00,143.22 L70.30,142.30 L70.42,141.35 L70.54,138.80 L70.66,138.03 L70.78,136.52 L70.90,134.60 L71.55,132.38 L72.20,131.40 L72.83,129.44 L73.47,127.92 L74.10,126.90 L74.50,128.20 L74.92,126.88 L75.35,124.59 L75.78,123.95 L76.20,122.00 L76.57,120.55 L76.93,119.69 L77.30,118.10 L78.23,116.31 L79.17,115.95 L80.10,114.20 L80.95,116.11 L81.80,117.00 L83.50,118.10 L84.65,117.13 L85.80,116.40 L86.90,114.90 L88.00,114.70 L88.42,113.33 L88.85,112.38 L89.28,111.43 L89.70,109.60 L90.85,107.75 L92.00,106.80 L94.20,105.70 L95.60,104.97 L97.00,103.50 L97.42,102.24 L97.85,100.75 L98.28,100.17 L98.70,98.40 L100.40,98.60 L102.70,98.50 L104.90,97.40 L106.30,97.32 L107.70,96.10 L108.70,95.80 L110.40,96.90 L111.50,97.94 L112.60,98.60 L114.90,98.00 L117.10,97.40 L117.67,95.68 L118.23,95.00 L118.80,93.50 L119.65,94.84 L120.50,95.80 L122.20,94.60 L122.62,92.62 L123.05,91.89 L123.48,90.28 L123.90,88.40 L125.60,90.10 L127.30,88.40 L128.90,87.90 L129.50,86.43 L130.10,85.10 L131.20,86.20 L131.75,87.93 L132.30,89.60 L132.67,90.60 L133.03,92.14 L133.40,93.50 L134.25,95.59 L135.10,96.90 L137.40,97.40 L138.50,95.92 L139.60,95.20 L141.90,94.60 L144.10,95.20 L146.40,95.80 L148.60,96.30 L150.90,97.40 L152.00,96.17 L153.10,95.80 L153.95,93.82 L154.80,92.40 L155.40,91.36 L156.00,89.60 L156.55,90.97 L157.10,92.90 L158.20,94.39 L159.30,94.60 L161.60,93.50 L163.80,94.10 L165.00,93.10 L165.95,93.68 L166.90,95.10 L168.90,94.10 L170.80,92.70 L171.50,91.14 L172.20,89.30 L173.70,90.70 L174.65,92.18 L175.60,94.10 L176.55,95.56 L177.50,96.00 L178.50,95.00 L179.50,93.10 L180.30,91.53 L181.10,91.17 L181.90,89.30 L182.85,88.24 L183.80,87.40 L184.55,89.02 L185.30,90.30 L186.70,90.13 L188.10,90.70 L188.77,91.23 L189.43,92.92 L190.10,94.10 L191.05,92.71 L192.00,92.20 L193.90,90.70 L195.35,90.87 L196.80,90.70 L198.25,90.56 L199.70,90.30 L201.60,91.20 L203.60,92.20 L205.50,92.20 L206.70,90.80 L207.90,89.30 L208.53,88.39 L209.17,86.71 L209.80,85.40 L210.55,87.40 L211.30,88.80 L212.25,89.20 L213.20,90.70 L214.15,91.26 L215.10,93.10 L216.10,92.14 L217.10,90.30 L219.00,89.80 L219.63,90.77 L220.27,93.21 L220.90,94.10 L222.90,94.10 L225.00,92.80 L226.70,91.60 L227.80,92.23 L228.90,93.30 L230.05,94.73 L231.20,95.00 L231.62,92.97 L232.05,91.84 L232.47,90.67 L232.90,88.80 L234.00,87.25 L235.10,86.60 L236.80,84.90 L238.50,83.20 L238.87,81.61 L239.23,80.51 L239.60,79.30 L240.00,77.35 L240.40,76.67 L240.80,75.30 L241.90,74.80 L243.00,76.40 L244.70,78.10 L246.40,77.60 L248.10,77.60 L249.80,78.70 L250.60,79.64 L251.40,80.90 L253.10,80.90 L254.80,82.60 L255.65,83.28 L256.50,84.90 L258.20,86.00 L258.75,86.91 L259.30,88.80 L261.00,88.80 L262.70,89.90 L264.40,91.10 L266.10,90.50 L267.80,91.10 L270.00,90.50 L272.30,91.60 L274.00,92.80 L274.80,91.20 L275.60,90.50 L276.45,88.99 L277.30,87.70 L279.00,86.60 L280.70,85.40 L282.40,84.30 L284.10,83.20 L285.80,84.30 L287.50,86.00 L288.30,85.30 L289.10,83.80 L290.80,85.40 L292.50,86.00" stroke="#ec1c24" stroke-dasharray="8.4 1.8 4.2 1.8"/>
</g>
<g stroke="#262626" stroke-width="1" fill="none" shape-rendering="crispEdges" stroke-opacity="0.55">
<rect x="55.5" y="14.5" width="259.0" height="258.0"/>
<line x1="55.5" y1="272.5" x2="55.5" y2="270.0"/><line x1="55.5" y1="14.5" x2="55.5" y2="17.0"/>
<line x1="98.5" y1="272.5" x2="98.5" y2="270.0"/><line x1="98.5" y1="14.5" x2="98.5" y2="17.0"/>
<line x1="141.5" y1="272.5" x2="141.5" y2="270.0"/><line x1="141.5" y1="14.5" x2="141.5" y2="17.0"/>
<line x1="184.5" y1="272.5" x2="184.5" y2="270.0"/><line x1="184.5" y1="14.5" x2="184.5" y2="17.0"/>
<line x1="228.5" y1="272.5" x2="228.5" y2="270.0"/><line x1="228.5" y1="14.5" x2="228.5" y2="17.0"/>
<line x1="271.5" y1="272.5" x2="271.5" y2="270.0"/><line x1="271.5" y1="14.5" x2="271.5" y2="17.0"/>
<line x1="314.5" y1="272.5" x2="314.5" y2="270.0"/><line x1="314.5" y1="14.5" x2="314.5" y2="17.0"/>
<line x1="55.5" y1="264.5" x2="58.0" y2="264.5"/><line x1="314.5" y1="264.5" x2="312.0" y2="264.5"/>
<line x1="55.5" y1="222.5" x2="58.0" y2="222.5"/><line x1="314.5" y1="222.5" x2="312.0" y2="222.5"/>
<line x1="55.5" y1="181.5" x2="58.0" y2="181.5"/><line x1="314.5" y1="181.5" x2="312.0" y2="181.5"/>
<line x1="55.5" y1="139.5" x2="58.0" y2="139.5"/><line x1="314.5" y1="139.5" x2="312.0" y2="139.5"/>
<line x1="55.5" y1="97.5" x2="58.0" y2="97.5"/><line x1="314.5" y1="97.5" x2="312.0" y2="97.5"/>
<line x1="55.5" y1="56.5" x2="58.0" y2="56.5"/><line x1="314.5" y1="56.5" x2="312.0" y2="56.5"/>
<line x1="55.5" y1="14.5" x2="58.0" y2="14.5"/><line x1="314.5" y1="14.5" x2="312.0" y2="14.5"/>
</g>
<text transform="translate(55.71,289.90) scale(0.94,1)" font-size="12.3" fill="#363636" text-anchor="middle" stroke="#363636" stroke-width="0.28" stroke-opacity="0.55" letter-spacing="0.45">0</text>
<text transform="translate(98.88,289.90) scale(0.94,1)" font-size="12.3" fill="#363636" text-anchor="middle" stroke="#363636" stroke-width="0.28" stroke-opacity="0.55" letter-spacing="0.45">20</text>
<text transform="translate(142.04,289.90) scale(0.94,1)" font-size="12.3" fill="#363636" text-anchor="middle" stroke="#363636" stroke-width="0.28" stroke-opacity="0.55" letter-spacing="0.45">40</text>
<text transform="translate(185.21,289.90) scale(0.94,1)" font-size="12.3" fill="#363636" text-anchor="middle" stroke="#363636" stroke-width="0.28" stroke-opacity="0.55" letter-spacing="0.45">60</text>
<text transform="translate(228.38,289.90) scale(0.94,1)" font-size="12.3" fill="#363636" text-anchor="middle" stroke="#363636" stroke-width="0.28" stroke-opacity="0.55" letter-spacing="0.45">80</text>
<text transform="translate(271.54,289.90) scale(0.94,1)" font-size="12.3" fill="#363636" text-anchor="middle" stroke="#363636" stroke-width="0.28" stroke-opacity="0.55" letter-spacing="0.45">100</text>
<text transform="translate(314.71,289.90) scale(0.94,1)" font-size="12.3" fill="#363636" text-anchor="middle" stroke="#363636" stroke-width="0.28" stroke-opacity="0.55" letter-spacing="0.45">120</text>
<text transform="translate(51.32,268.60) scale(0.94,1)" font-size="12.3" fill="#363636" text-anchor="end" stroke="#363636" stroke-width="0.28" stroke-opacity="0.55" letter-spacing="0.45">0</text>
<text transform="translate(51.32,226.93) scale(0.94,1)" font-size="12.3" fill="#363636" text-anchor="end" stroke="#363636" stroke-width="0.28" stroke-opacity="0.55" letter-spacing="0.45">5000</text>
<text transform="translate(51.32,185.27) scale(0.94,1)" font-size="12.3" fill="#363636" text-anchor="end" stroke="#363636" stroke-width="0.28" stroke-opacity="0.55" letter-spacing="0.45">10000</text>
<text transform="translate(51.32,143.60) scale(0.94,1)" font-size="12.3" fill="#363636" text-anchor="end" stroke="#363636" stroke-width="0.28" stroke-opacity="0.55" letter-spacing="0.45">15000</text>
<text transform="translate(51.32,101.93) scale(0.94,1)" font-size="12.3" fill="#363636" text-anchor="end" stroke="#363636" stroke-width="0.28" stroke-opacity="0.55" letter-spacing="0.45">20000</text>
<text transform="translate(51.32,60.27) scale(0.94,1)" font-size="12.3" fill="#363636" text-anchor="end" stroke="#363636" stroke-width="0.28" stroke-opacity="0.55" letter-spacing="0.45">25000</text>
<text transform="translate(51.32,18.60) scale(0.94,1)" font-size="12.3" fill="#363636" text-anchor="end" stroke="#363636" stroke-width="0.28" stroke-opacity="0.55" letter-spacing="0.45">30000</text>
<text transform="translate(185.00,306.60) scale(1.0,1)" font-size="14.2" fill="#363636" text-anchor="middle" stroke="#363636" stroke-width="0.28" stroke-opacity="0.55">Time (min)</text>
<text transform="translate(10.9,142.9) rotate(-90) scale(1,0.92)" font-size="14.35" fill="#363636" text-anchor="middle">Measured in-plane strains (με)</text>
<text transform="translate(57.60,37.60) scale(1.05,1)" font-size="23" fill="#000" text-anchor="start" stroke="#000" stroke-width="0.28" stroke-opacity="0.55">(</text>
<text transform="translate(65.80,37.60) scale(0.93,1)" font-size="22.6" fill="#000" text-anchor="start" stroke="#000" stroke-width="0.28" stroke-opacity="0.55">a</text>
<text transform="translate(88.20,37.60) scale(1.05,1)" font-size="23" fill="#000" text-anchor="end" stroke="#000" stroke-width="0.28" stroke-opacity="0.55">)</text>
</g>
<g id="axB">
<g stroke="#262626" stroke-width="1" fill="none" shape-rendering="crispEdges" stroke-opacity="0.55">
<rect x="413.5" y="14.5" width="259.0" height="258.0"/>
<line x1="413.5" y1="272.5" x2="413.5" y2="270.0"/><line x1="413.5" y1="14.5" x2="413.5" y2="17.0"/>
<line x1="478.5" y1="272.5" x2="478.5" y2="270.0"/><line x1="478.5" y1="14.5" x2="478.5" y2="17.0"/>
<line x1="542.5" y1="272.5" x2="542.5" y2="270.0"/><line x1="542.5" y1="14.5" x2="542.5" y2="17.0"/>
<line x1="607.5" y1="272.5" x2="607.5" y2="270.0"/><line x1="607.5" y1="14.5" x2="607.5" y2="17.0"/>
<line x1="672.5" y1="272.5" x2="672.5" y2="270.0"/><line x1="672.5" y1="14.5" x2="672.5" y2="17.0"/>
<line x1="413.5" y1="272.5" x2="416.0" y2="272.5"/><line x1="672.5" y1="272.5" x2="670.0" y2="272.5"/>
<line x1="413.5" y1="229.5" x2="416.0" y2="229.5"/><line x1="672.5" y1="229.5" x2="670.0" y2="229.5"/>
<line x1="413.5" y1="186.5" x2="416.0" y2="186.5"/><line x1="672.5" y1="186.5" x2="670.0" y2="186.5"/>
<line x1="413.5" y1="143.5" x2="416.0" y2="143.5"/><line x1="672.5" y1="143.5" x2="670.0" y2="143.5"/>
<line x1="413.5" y1="100.5" x2="416.0" y2="100.5"/><line x1="672.5" y1="100.5" x2="670.0" y2="100.5"/>
<line x1="413.5" y1="57.5" x2="416.0" y2="57.5"/><line x1="672.5" y1="57.5" x2="670.0" y2="57.5"/>
<line x1="413.5" y1="14.5" x2="416.0" y2="14.5"/><line x1="672.5" y1="14.5" x2="670.0" y2="14.5"/>
</g>
<text transform="translate(413.71,289.90) scale(0.94,1)" font-size="12.3" fill="#363636" text-anchor="middle" stroke="#363636" stroke-width="0.28" stroke-opacity="0.55" letter-spacing="0.45">200</text>
<text transform="translate(478.46,289.90) scale(0.94,1)" font-size="12.3" fill="#363636" text-anchor="middle" stroke="#363636" stroke-width="0.28" stroke-opacity="0.55" letter-spacing="0.45">400</text>
<text transform="translate(543.21,289.90) scale(0.94,1)" font-size="12.3" fill="#363636" text-anchor="middle" stroke="#363636" stroke-width="0.28" stroke-opacity="0.55" letter-spacing="0.45">600</text>
<text transform="translate(607.96,289.90) scale(0.94,1)" font-size="12.3" fill="#363636" text-anchor="middle" stroke="#363636" stroke-width="0.28" stroke-opacity="0.55" letter-spacing="0.45">800</text>
<text transform="translate(672.71,289.90) scale(0.94,1)" font-size="12.3" fill="#363636" text-anchor="middle" stroke="#363636" stroke-width="0.28" stroke-opacity="0.55" letter-spacing="0.45">1000</text>
<text transform="translate(409.02,276.60) scale(0.94,1)" font-size="12.3" fill="#363636" text-anchor="end" stroke="#363636" stroke-width="0.28" stroke-opacity="0.55" letter-spacing="0.45">0</text>
<text transform="translate(409.02,233.60) scale(0.94,1)" font-size="12.3" fill="#363636" text-anchor="end" stroke="#363636" stroke-width="0.28" stroke-opacity="0.55" letter-spacing="0.45">5000</text>
<text transform="translate(409.02,190.60) scale(0.94,1)" font-size="12.3" fill="#363636" text-anchor="end" stroke="#363636" stroke-width="0.28" stroke-opacity="0.55" letter-spacing="0.45">10000</text>
<text transform="translate(409.02,147.60) scale(0.94,1)" font-size="12.3" fill="#363636" text-anchor="end" stroke="#363636" stroke-width="0.28" stroke-opacity="0.55" letter-spacing="0.45">15000</text>
<text transform="translate(409.02,104.60) scale(0.94,1)" font-size="12.3" fill="#363636" text-anchor="end" stroke="#363636" stroke-width="0.28" stroke-opacity="0.55" letter-spacing="0.45">20000</text>
<text transform="translate(409.02,61.60) scale(0.94,1)" font-size="12.3" fill="#363636" text-anchor="end" stroke="#363636" stroke-width="0.28" stroke-opacity="0.55" letter-spacing="0.45">25000</text>
<text transform="translate(409.02,18.60) scale(0.94,1)" font-size="12.3" fill="#363636" text-anchor="end" stroke="#363636" stroke-width="0.28" stroke-opacity="0.55" letter-spacing="0.45">30000</text>
<text transform="translate(543.00,306.60) scale(1.0,1)" font-size="14.2" fill="#363636" text-anchor="middle" stroke="#363636" stroke-width="0.28" stroke-opacity="0.55">Working distance (mm)</text>
<text transform="translate(368.2,143.50) rotate(-90) scale(1,0.92)" font-size="14.25" fill="#363636" text-anchor="middle">Mean strains in thermal equilibrium stage (με)</text>
<text transform="translate(415.80,37.60) scale(1.05,1)" font-size="23" fill="#000" text-anchor="start" stroke="#000" stroke-width="0.28" stroke-opacity="0.55">(b)</text>
<rect x="442.27" y="210.40" width="7.2" height="7.2" fill="#ec1c24" stroke="#000" stroke-width="0.9"/><circle cx="445.88" cy="218.90" r="4.5" fill="#1448a0" stroke="#000" stroke-width="0.9"/>
<circle cx="494.44" cy="189.40" r="4.5" fill="#1448a0" stroke="#000" stroke-width="0.9"/><rect x="490.84" y="177.40" width="7.2" height="7.2" fill="#ec1c24" stroke="#000" stroke-width="0.9"/>
<circle cx="543.00" cy="155.54" r="4.5" fill="#1448a0" stroke="#000" stroke-width="0.9"/><rect x="539.40" y="149.00" width="7.2" height="7.2" fill="#ec1c24" stroke="#000" stroke-width="0.9"/>
<circle cx="591.56" cy="127.20" r="4.5" fill="#1448a0" stroke="#000" stroke-width="0.9"/><rect x="587.96" y="111.40" width="7.2" height="7.2" fill="#ec1c24" stroke="#000" stroke-width="0.9"/>
<rect x="636.52" y="89.16" width="7.2" height="7.2" fill="#ec1c24" stroke="#000" stroke-width="0.9"/><circle cx="640.12" cy="98.20" r="4.5" fill="#1448a0" stroke="#000" stroke-width="0.9"/>
<line x1="429.5" y1="228.7" x2="656.3" y2="86.6" stroke="#1448a0" stroke-width="2.2" stroke-dasharray="7.6 7.66"/>
<line x1="429.5" y1="223.0" x2="656.0" y2="79.0" stroke="#ec1c24" stroke-width="2.2" stroke-dasharray="7.6 7.66"/>
<rect x="554.5" y="20.5" width="110" height="39" fill="#fff" stroke="#262626" stroke-opacity="0.55" stroke-width="1" shape-rendering="crispEdges"/>
<circle cx="572.4" cy="30.8" r="4.5" fill="#1448a0" stroke="#000" stroke-width="0.9"/>
<rect x="568.90" y="45.20" width="7.2" height="7.2" fill="#ec1c24" stroke="#000" stroke-width="0.9"/>
<text x="590.2" y="32.9" font-size="10.9" fill="#000" stroke="#000" stroke-width="0.25" stroke-opacity="0.5">Mean strain <tspan dx="1.6" font-family="Liberation Serif" font-style="italic" font-size="10.5" stroke-width="0">ϵ</tspan><tspan font-size="9" dx="0.1" dy="5.0">x</tspan></text>
<text x="590.2" y="50.9" font-size="10.9" fill="#000" stroke="#000" stroke-width="0.25" stroke-opacity="0.5">Mean strain <tspan dx="1.6" font-family="Liberation Serif" font-style="italic" font-size="10.5" stroke-width="0">ϵ</tspan><tspan font-size="9" dx="0.1" dy="5.0">y</tspan></text>
</g>
<rect x="199.5" y="18.5" width="110" height="39" fill="#fff" stroke="#262626" stroke-opacity="0.55" stroke-width="1" shape-rendering="crispEdges"/>
<line x1="202.1" y1="28.4" x2="232.8" y2="28.4" stroke="#1448a0" stroke-width="2"/>
<line x1="202.1" y1="46.9" x2="231.2" y2="46.9" stroke="#ec1c24" stroke-width="2" stroke-dasharray="7.6 1.9 3.9 1.9"/>
<text x="235.8" y="30.2" font-size="10.9" fill="#000" stroke="#000" stroke-width="0.25" stroke-opacity="0.5">Mean strain <tspan dx="1.6" font-family="Liberation Serif" font-style="italic" font-size="10.5" stroke-width="0">ϵ</tspan><tspan font-size="9" dx="0.1" dy="5.0">x</tspan></text>
<text x="235.8" y="48.2" font-size="10.9" fill="#000" stroke="#000" stroke-width="0.25" stroke-opacity="0.5">Mean strain <tspan dx="1.6" font-family="Liberation Serif" font-style="italic" font-size="10.5" stroke-width="0">ϵ</tspan><tspan font-size="9" dx="0.1" dy="5.0">y</tspan></text>
</svg></body></html>
